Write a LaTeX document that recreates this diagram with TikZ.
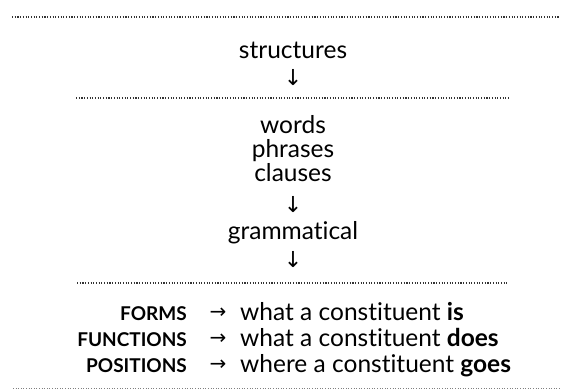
\documentclass[tikz,border=0pt]{standalone}
\usepackage{fontspec}
\setmainfont{Lato}[Ligatures={NoCommon}]
\newfontfamily\arrowfont{DejaVu Sans}
\tikzset{
  sep/.style={draw=black!80, line width=1.1pt, dash pattern=on 1.1pt off 1.6pt},
  seplight/.style={draw=black!50, line width=0.9pt, dash pattern=on 1pt off 1.6pt},
  word/.style={inner sep=0pt, anchor=base, font=\fontsize{24.5}{28}\selectfont},
  darr/.style={inner sep=0pt, anchor=base, font=\arrowfont\fontsize{22}{24}\selectfont},
  lab/.style={inner sep=0pt, anchor=base east, font=\fontsize{19}{22}\selectfont\bfseries},
  rarr/.style={inner sep=0pt, anchor=base, font=\arrowfont\fontsize{20}{22}\selectfont},
  desc/.style={inner sep=0pt, anchor=base west, font=\fontsize{24.5}{28}\selectfont}
}
\begin{document}
\begin{tikzpicture}[x=1pt,y=-1pt]
\useasboundingbox (0,0) rectangle (562,390);
% separators
\coordinate (l1a) at (12,17);  \coordinate (l1b) at (560,17);
\coordinate (l2a) at (76,98);  \coordinate (l2b) at (510,98);
\coordinate (l3a) at (77,283); \coordinate (l3b) at (508,283);
\coordinate (l4a) at (13,388); \coordinate (l4b) at (560,388);
\draw[sep] (l1a) -- (l1b);
\draw[sep] (l2a) -- (l2b);
\draw[sep] (l3a) -- (l3b);
\draw[seplight] (l4a) -- (l4b);
% central column
\node[word] (structures) at (293,59) {structures};
\node[darr] (a1) at (293,86) {↓};
\node[word] (words) at (293,134) {words};
\node[word] (phrases) at (293,158) {phrases};
\node[word] (clauses) at (293,182) {clauses};
\node[darr] (a2) at (293,213) {↓};
\node[word] (gram) at (293,240) {grammatical};
\node[darr] (a3) at (293,267) {↓};
% bottom rows
\node[lab] (forms) at (187,320) {FORMS};
\node[rarr] (r1) at (218,318) {→};
\node[desc] (d1) at (240,320) {what a constituent \textbf{is}};
\node[lab] (functions) at (187,346) {FUNCTIONS};
\node[rarr] (r2) at (218,344) {→};
\node[desc] (d2) at (240,346) {what a constituent \textbf{does}};
\node[lab] (positions) at (187,372) {POSITIONS};
\node[rarr] (r3) at (218,370) {→};
\node[desc] (d3) at (240,372) {where a constituent \textbf{goes}};
\end{tikzpicture}
\end{document}
